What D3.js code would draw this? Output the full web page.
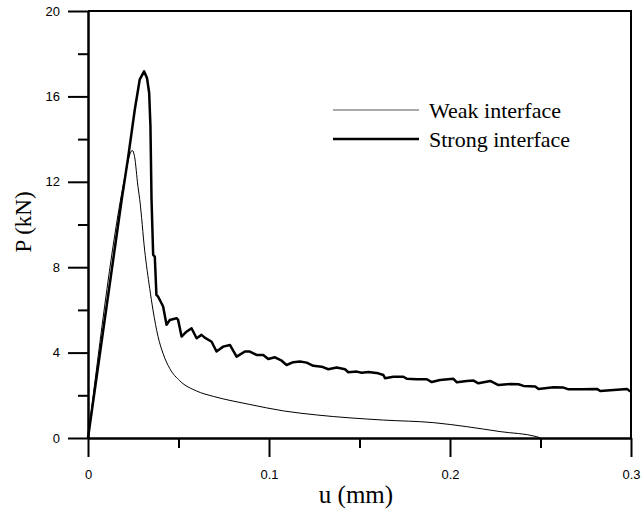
<!DOCTYPE html>
<html lang="en">
<head>
    <meta charset="UTF-8">
    <title>P-u curves, weak and strong interface</title>
    <script src="https://d3js.org/d3.v7.min.js"></script>
    <style>
        body { margin: 0; background: #fff; }
    </style>
</head>
<body>
    <script>
        // Data: u (mm), P (kN)
        const weakU = [0, 0.021, 0.0228, 0.0245, 0.0257, 0.0276, 0.0286, 0.0313, 0.0341, 0.0359,
            0.0387, 0.0415, 0.0452, 0.0507, 0.060, 0.0692, 0.079, 0.0894, 0.1079, 0.1263,
            0.1632, 0.1908, 0.2093, 0.2277, 0.248, 0.25];
        const weakP = [0, 12.5, 13.2, 13.47, 13.19, 11.78, 11.16, 8.8, 7.0, 6.0,
            4.75, 3.95, 3.25, 2.68, 2.2, 1.95, 1.75, 1.57, 1.27, 1.08,
            0.84, 0.72, 0.53, 0.30, 0.06, 0];

        const strongU = [0, 0.0185, 0.0221, 0.0258, 0.0286, 0.031, 0.0326, 0.0338, 0.0345, 0.0351,
            0.036, 0.0369, 0.0378, 0.0387, 0.0406, 0.0415, 0.0434, 0.0452, 0.0489, 0.0498,
            0.0517, 0.0544, 0.0572, 0.060, 0.0627, 0.0645, 0.0683, 0.071, 0.0747, 0.0784,
            0.0821, 0.0867, 0.0894, 0.0931, 0.0968, 0.0996, 0.1033, 0.107, 0.1097, 0.1134,
            0.1171, 0.1208, 0.1245, 0.1291, 0.1328, 0.1374, 0.142, 0.1438, 0.1485, 0.1512,
            0.1549, 0.1604, 0.1632, 0.1641, 0.1687, 0.1742, 0.1761, 0.1816, 0.1872, 0.1899,
            0.1945, 0.2019, 0.2038, 0.2093, 0.213, 0.2157, 0.2222, 0.2268, 0.2333, 0.2378,
            0.2406, 0.2471, 0.2489, 0.2572, 0.2627, 0.2655, 0.2729, 0.2812, 0.283, 0.2904,
            0.2978, 0.2996];
        const strongP = [0, 11.1, 13.1, 15.35, 16.8, 17.17, 16.86, 16.16, 14.6, 11.16,
            8.58, 8.5, 6.7, 6.63, 6.31, 6.16, 5.3, 5.53, 5.61, 5.53,
            4.75, 4.98, 5.14, 4.67, 4.83, 4.7, 4.51, 4.05, 4.28, 4.36,
            3.81, 4.05, 4.05, 3.89, 3.89, 3.70, 3.78, 3.62, 3.42, 3.55,
            3.58, 3.53, 3.38, 3.34, 3.22, 3.30, 3.22, 3.08, 3.11, 3.06,
            3.09, 3.03, 2.95, 2.80, 2.87, 2.87, 2.78, 2.75, 2.75, 2.62,
            2.72, 2.77, 2.61, 2.67, 2.69, 2.56, 2.67, 2.48, 2.53, 2.52,
            2.44, 2.41, 2.30, 2.38, 2.36, 2.28, 2.28, 2.30, 2.20, 2.25,
            2.30, 2.17];

        const xMajor = [0, 0.1, 0.2, 0.3];
        const xMinor = [0.05, 0.15, 0.25];
        const yMajor = [0, 4, 8, 12, 16, 20];
        const yMinor = [2, 6, 10, 14, 18];
        const seriesNames = ["Weak interface", "Strong interface"];

        const width = 644, height = 512;
        const mLeft = 88, mRight = 631, mTop = 11, mBottom = 438;

        const svg = d3.select("body")
            .append("svg")
            .attr("width", width)
            .attr("height", height);

        const x = d3.scaleLinear().domain([0, 0.3]).range([mLeft, mRight]);
        const y = d3.scaleLinear().domain([0, 20]).range([mBottom, mTop]);

        function styleAxis(g) {
            g.selectAll("path, line")
                .attr("stroke", "#000")
                .attr("stroke-width", 2);
            g.selectAll("text")
                .attr("font-family", "Liberation Sans, Arial, sans-serif")
                .attr("font-size", 13)
                .attr("fill", "#000");
        }

        // frame: top and right lines
        svg.append("path")
            .attr("d", `M ${x(0)} ${y(20)} L ${x(0.3)} ${y(20)} L ${x(0.3)} ${y(0)}`)
            .attr("fill", "none")
            .attr("stroke", "#000")
            .attr("stroke-width", 2);

        // y axis, major and minor ticks
        svg.append("g")
            .attr("transform", `translate(${mLeft},0)`)
            .call(d3.axisLeft(y).tickValues(yMajor).tickSize(20).tickSizeOuter(0)
                .tickPadding(8).tickFormat(d3.format("d")))
            .call(styleAxis);
        svg.append("g")
            .attr("transform", `translate(${mLeft},0)`)
            .call(d3.axisLeft(y).tickValues(yMinor).tickSize(10).tickSizeOuter(0).tickFormat(""))
            .call(styleAxis);

        // x axis, major and minor ticks
        svg.append("g")
            .attr("transform", `translate(0,${mBottom})`)
            .call(d3.axisBottom(x).tickValues(xMajor).tickSize(19).tickSizeOuter(0)
                .tickPadding(13).tickFormat(d => d === 0 ? "0" : d3.format(".1f")(d)))
            .call(styleAxis);
        svg.append("g")
            .attr("transform", `translate(0,${mBottom})`)
            .call(d3.axisBottom(x).tickValues(xMinor).tickSize(10).tickSizeOuter(0).tickFormat(""))
            .call(styleAxis);

        // axis titles
        svg.append("text")
            .attr("transform", "translate(31,222) rotate(-90)")
            .attr("text-anchor", "middle")
            .attr("font-family", "Liberation Serif, Times New Roman, serif")
            .attr("font-size", 23)
            .text("P (kN)");
        svg.append("text")
            .attr("x", 356)
            .attr("y", 503)
            .attr("text-anchor", "middle")
            .attr("font-family", "Liberation Serif, Times New Roman, serif")
            .attr("font-size", 25)
            .text("u (mm)");

        // curves
        const weak = weakU.map((u, i) => ({ u: u, p: weakP[i] }));
        const strong = strongU.map((u, i) => ({ u: u, p: strongP[i] }));

        svg.append("path")
            .datum(weak)
            .attr("d", d3.line().x(d => x(d.u)).y(d => y(d.p)).curve(d3.curveMonotoneX))
            .attr("fill", "none")
            .attr("stroke", "#000")
            .attr("stroke-width", 1);

        svg.append("path")
            .datum(strong)
            .attr("d", d3.line().x(d => x(d.u)).y(d => y(d.p)))
            .attr("fill", "none")
            .attr("stroke", "#000")
            .attr("stroke-width", 2.5)
            .attr("stroke-linejoin", "round");

        // legend
        const legend = svg.append("g").attr("transform", "translate(333,110)");
        seriesNames.forEach((name, i) => {
            legend.append("line")
                .attr("x1", 0).attr("x2", 86)
                .attr("y1", i * 29).attr("y2", i * 29)
                .attr("stroke", i === 0 ? "#555" : "#000")
                .attr("stroke-width", i === 0 ? 1 : 2.5);
            legend.append("text")
                .attr("x", 96)
                .attr("y", i * 29 + 8)
                .attr("font-family", "Liberation Serif, Times New Roman, serif")
                .attr("font-size", 22)
                .text(name);
        });
    </script>
</body>
</html>
